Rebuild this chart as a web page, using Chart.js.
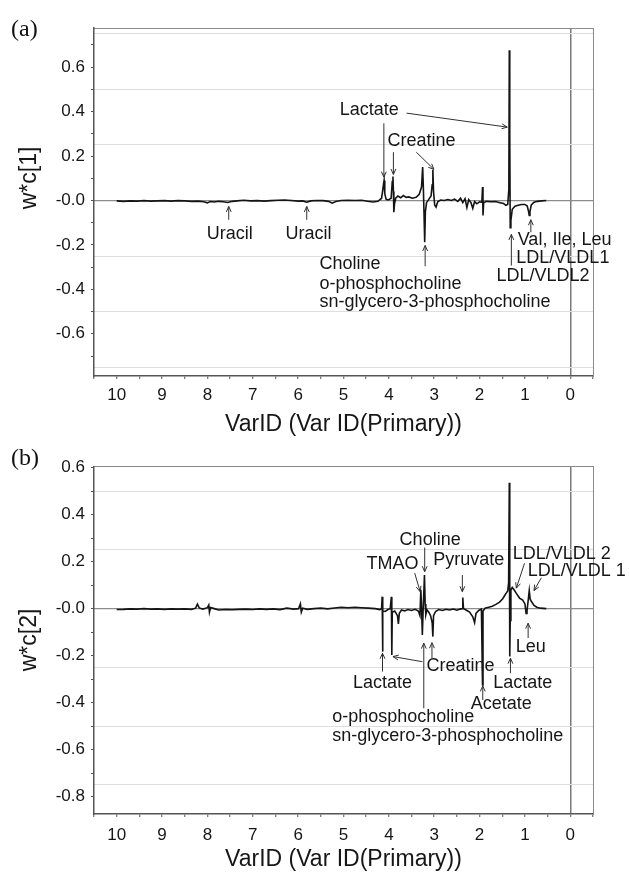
<!DOCTYPE html>
<html><head><meta charset="utf-8">
<script src="https://cdn.jsdelivr.net/npm/chart.js@4.4.1/dist/chart.umd.min.js"></script>
<style>
html,body{margin:0;padding:0;background:#fff;}
body{width:629px;height:877px;position:relative;overflow:hidden;}
canvas{position:absolute;left:0;}
#ca{top:0;} #cb{top:445px;}
.tag{position:absolute;font-family:"Liberation Serif","Times New Roman",serif;font-size:24px;line-height:24px;color:#111;}
</style></head><body>
<canvas id="ca" width="629" height="445"></canvas>
<canvas id="cb" width="629" height="432"></canvas>
<div class="tag" style="left:11px;top:16px;">(a)</div>
<div class="tag" style="left:11px;top:445px;">(b)</div>
<script>
// ---- data: chemical shift (ppm) and loadings w*c ----
const ppmA = [
 10.00, 9.85, 9.70, 9.55, 9.40, 9.25, 9.10, 8.95, 8.80, 8.65,
 8.50, 8.35, 8.20, 8.08, 8.00, 7.94, 7.85, 7.75, 7.65, 7.55,
 7.45, 7.35, 7.20, 7.05, 6.90, 6.75, 6.60, 6.45, 6.30, 6.15,
 6.00, 5.90, 5.81, 5.72, 5.60, 5.45, 5.33, 5.25, 5.17, 5.05,
 4.90, 4.75, 4.60, 4.47, 4.35, 4.24, 4.16, 4.12, 4.105, 4.09,
 4.06, 4.01, 3.95, 3.925, 3.91, 3.90, 3.89, 3.875, 3.85, 3.80,
 3.74, 3.68, 3.62, 3.56, 3.48, 3.40, 3.33, 3.28, 3.255, 3.24,
 3.225, 3.21, 3.195, 3.17, 3.12, 3.07, 3.045, 3.03, 3.015, 2.99,
 2.96, 2.92, 2.86, 2.78, 2.70, 2.62, 2.55, 2.48, 2.42, 2.37,
 2.32, 2.28, 2.24, 2.19, 2.15, 2.11, 2.06, 2.00, 1.95, 1.935,
 1.925, 1.91, 1.85, 1.75, 1.65, 1.55, 1.47, 1.42, 1.38, 1.355,
 1.345, 1.335, 1.325, 1.31, 1.28, 1.22, 1.15, 1.08, 1.00, 0.95,
 0.92, 0.905, 0.89, 0.86, 0.80, 0.72, 0.63, 0.53
];
const wc1 = [
 -0.002, -0.004, -0.002, -0.003, -0.001, -0.003, -0.002, -0.001, -0.003, -0.001,
 -0.002, -0.004, -0.003, -0.006, -0.011, -0.005, -0.007, -0.004, -0.006, -0.009,
 -0.004, -0.002, 0.001, -0.002, -0.001, -0.003, -0.001, 0.001, 0.002, 0.000,
 -0.003, -0.002, -0.008, -0.002, 0.000, -0.001, -0.004, -0.012, -0.005, 0.000,
 0.001, 0.000, 0.001, -0.004, -0.007, -0.004, 0.010, 0.070, 0.090, 0.030,
 0.005, 0.002, 0.010, 0.085, 0.108, 0.040, -0.053, -0.015, 0.010, 0.020,
 0.012, 0.022, 0.014, 0.016, 0.010, 0.014, 0.028, 0.060, 0.150, 0.060,
 -0.060, -0.188, -0.050, -0.010, 0.005, 0.020, 0.070, 0.138, 0.040, -0.020,
 -0.030, -0.005, 0.002, 0.000, 0.004, 0.000, 0.006, -0.004, 0.010, -0.010,
 0.008, -0.032, 0.004, -0.010, -0.036, -0.005, -0.015, -0.006, -0.008, 0.060,
 -0.068, -0.010, -0.004, -0.006, -0.005, -0.010, -0.014, -0.022, -0.018, 0.050,
 0.676, 0.300, -0.123, -0.090, -0.040, -0.026, -0.022, -0.018, -0.018, -0.025,
 -0.050, -0.068, -0.050, -0.020, -0.008, -0.004, -0.002, 0.000
];
const ppmB = [
 10.00, 9.85, 9.70, 9.55, 9.40, 9.25, 9.10, 8.95, 8.80, 8.65,
 8.50, 8.35, 8.26, 8.22, 8.18, 8.10, 8.00, 7.97, 7.955, 7.93,
 7.85, 7.75, 7.60, 7.45, 7.30, 7.15, 7.00, 6.85, 6.70, 6.55,
 6.40, 6.25, 6.10, 5.99, 5.95, 5.93, 5.90, 5.80, 5.65, 5.50,
 5.35, 5.20, 5.05, 4.90, 4.75, 4.60, 4.45, 4.30, 4.20, 4.16,
 4.148, 4.14, 4.13, 4.08, 4.02, 3.97, 3.945, 3.935, 3.925, 3.87,
 3.81, 3.79, 3.77, 3.72, 3.65, 3.58, 3.50, 3.42, 3.35, 3.315,
 3.295, 3.28, 3.262, 3.245, 3.215, 3.20, 3.185, 3.16, 3.12, 3.08,
 3.045, 3.03, 3.015, 2.97, 2.90, 2.82, 2.74, 2.66, 2.58, 2.50,
 2.43, 2.385, 2.37, 2.355, 2.30, 2.22, 2.15, 2.11, 2.08, 2.02,
 1.96, 1.935, 1.925, 1.88, 1.80, 1.72, 1.64, 1.56, 1.49, 1.44,
 1.41, 1.38, 1.36, 1.345, 1.338, 1.332, 1.325, 1.31, 1.28, 1.24,
 1.19, 1.12, 1.05, 1.00, 0.975, 0.955, 0.92, 0.905, 0.885, 0.85,
 0.80, 0.74, 0.66, 0.53
];
const wc2 = [
 -0.004, -0.003, -0.001, -0.002, 0.000, -0.002, -0.001, -0.003, -0.001, -0.002,
 -0.001, -0.003, 0.002, 0.019, 0.003, -0.002, 0.004, 0.015, -0.015, 0.005,
 0.000, -0.006, -0.004, -0.005, -0.003, -0.002, -0.004, -0.001, -0.003, -0.001,
 -0.004, 0.002, -0.002, 0.000, 0.020, -0.015, 0.002, -0.003, 0.000, 0.002,
 -0.001, 0.003, 0.006, 0.004, 0.006, 0.004, 0.002, 0.000, -0.004, 0.000,
 0.051, -0.183, -0.010, -0.012, -0.004, 0.000, 0.050, -0.197, -0.015, -0.010,
 -0.030, -0.065, -0.020, -0.006, -0.010, -0.004, -0.008, -0.003, -0.010, -0.030,
 0.080, 0.010, -0.112, -0.010, 0.143, 0.020, -0.025, -0.005, -0.015, -0.030,
 -0.060, -0.119, -0.030, -0.012, -0.004, -0.008, -0.003, -0.006, -0.002, -0.007,
 -0.002, 0.000, 0.047, 0.000, -0.006, -0.015, -0.035, -0.060, -0.020, -0.008,
 -0.002, -0.325, -0.010, 0.002, 0.006, 0.010, 0.018, 0.028, 0.042, 0.058,
 0.067, 0.075, 0.110, 0.536, 0.200, -0.204, -0.050, 0.080, 0.090, 0.080,
 0.065, 0.045, 0.036, 0.020, -0.020, -0.010, 0.050, 0.077, 0.040, 0.028,
 0.014, 0.006, 0.002, 0.000
];

// ---- axes ----
const xRange = [-0.5, 10.5];
const xTicks = [-0.5, 0, 0.5, 1, 1.5, 2, 2.5, 3, 3.5, 4, 4.5, 5, 5.5, 6, 6.5, 7, 7.5, 8, 8.5, 9, 9.5, 10, 10.5];
const yRangeA = [-0.79, 0.776];
const yRangeB = [-0.874, 0.604];
const yTicksA = [-0.7, -0.6, -0.5, -0.4, -0.3, -0.2, -0.1, 0, 0.1, 0.2, 0.3, 0.4, 0.5, 0.6, 0.7];
const yTicksB = [-0.8, -0.7, -0.6, -0.5, -0.4, -0.3, -0.2, -0.1, 0, 0.1, 0.2, 0.3, 0.4, 0.5, 0.6];
const yGridA = [-0.75, -0.5, -0.25, 0, 0.25, 0.5, 0.75];
const yGridB = [-0.75, -0.5, -0.25, 0, 0.25, 0.5];
const xTitle = 'VarID (Var ID(Primary))';

// ---- annotations (data coordinates) ----
const notesA = [
 {t:'Lactate', x:4.43, y:0.405},
 {t:'Creatine', x:3.28, y:0.266},
 {t:'Uracil', x:7.51, y:-0.149},
 {t:'Uracil', x:5.77, y:-0.149},
 {t:'Choline', x:5.53, y:-0.288, a:'left'},
 {t:'o-phosphocholine', x:5.53, y:-0.375, a:'left'},
 {t:'sn-glycero-3-phosphocholine', x:5.53, y:-0.458, a:'left'},
 {t:'Val, Ile, Leu', x:1.16, y:-0.177, a:'left'},
 {t:'LDL/VLDL1', x:1.19, y:-0.258, a:'left'},
 {t:'LDL/VLDL2', x:1.63, y:-0.342, a:'left'}
];
const arrowsA = [
 [3.61, 0.393, 1.39, 0.33],
 [4.11, 0.347, 4.11, 0.105],
 [3.90, 0.217, 3.90, 0.117],
 [3.395, 0.217, 3.007, 0.14],
 [7.53, -0.087, 7.53, -0.027],
 [5.81, -0.087, 5.81, -0.027],
 [3.20, -0.296, 3.20, -0.2025],
 [1.30, -0.293, 1.30, -0.153],
 [0.87, -0.143, 0.87, -0.087]
];
const notesB = [
 {t:'Choline', x:3.09, y:0.292},
 {t:'TMAO', x:3.92, y:0.191},
 {t:'Pyruvate', x:2.24, y:0.207},
 {t:'LDL/VLDL 2', x:1.27, y:0.233, a:'left'},
 {t:'LDL/VLDL 1', x:0.94, y:0.158, a:'left'},
 {t:'Leu', x:0.87, y:-0.162},
 {t:'Lactate', x:4.14, y:-0.317},
 {t:'Creatine', x:2.42, y:-0.244},
 {t:'Lactate', x:1.05, y:-0.317},
 {t:'Acetate', x:1.52, y:-0.404},
 {t:'o-phosphocholine', x:5.25, y:-0.462, a:'left'},
 {t:'sn-glycero-3-phosphocholine', x:5.25, y:-0.542, a:'left'}
];
const arrowsB = [
 [3.21, 0.26, 3.21, 0.157],
 [3.43, 0.151, 3.31, 0.072],
 [2.38, 0.143, 2.38, 0.072],
 [1.01, 0.193, 1.19, 0.087],
 [0.64, 0.131, 0.80, 0.077],
 [0.93, -0.125, 0.93, -0.062],
 [4.14, -0.268, 4.14, -0.19],
 [3.26, -0.226, 3.91, -0.204],
 [3.05, -0.211, 3.05, -0.145],
 [3.23, -0.424, 3.23, -0.147],
 [1.32, -0.275, 1.32, -0.211],
 [1.93, -0.389, 1.93, -0.329]
];

const FONT = '"Liberation Sans", Arial, Helvetica, sans-serif';

function drawArrow(ctx, x1, y1, x2, y2) {
  ctx.beginPath(); ctx.moveTo(x1, y1); ctx.lineTo(x2, y2); ctx.stroke();
  const ang = Math.atan2(y2 - y1, x2 - x1), L = 6, w = 0.42;
  ctx.beginPath();
  ctx.moveTo(x2 - L * Math.cos(ang - w), y2 - L * Math.sin(ang - w));
  ctx.lineTo(x2, y2);
  ctx.lineTo(x2 - L * Math.cos(ang + w), y2 - L * Math.sin(ang + w));
  ctx.stroke();
}

function makeChart(id, cfg) {
  const annot = {
    id: 'annot_' + id,
    afterDraw(chart) {
      const ctx = chart.ctx, xs = chart.scales.x, ys = chart.scales.y;
      ctx.save();
      ctx.fillStyle = '#161616';
      ctx.textBaseline = 'middle';
      ctx.font = '18px ' + FONT;
      cfg.notes.forEach(n => {
        ctx.textAlign = n.a || 'center';
        ctx.fillText(n.t, xs.getPixelForValue(n.x), ys.getPixelForValue(n.y));
      });
      ctx.strokeStyle = '#303030';
      ctx.lineWidth = 1;
      cfg.arrows.forEach(a => drawArrow(ctx,
        xs.getPixelForValue(a[0]), ys.getPixelForValue(a[1]),
        xs.getPixelForValue(a[2]), ys.getPixelForValue(a[3])));
      // rotated y-axis title
      ctx.font = '23px ' + FONT;
      ctx.textAlign = 'center';
      ctx.translate(30, cfg.yTitleY);
      ctx.rotate(-Math.PI / 2);
      ctx.fillText(cfg.yTitle, 0, 0);
      ctx.restore();
    }
  };
  return new Chart(document.getElementById(id), {
    type: 'line',
    data: { datasets: [{
      data: cfg.ppm.map((p, i) => ({x: p, y: cfg.wc[i]})),
      xAxisID: 'x', yAxisID: 'y',
      borderColor: '#141414', borderWidth: 1.6, pointRadius: 0, tension: 0, fill: false
    }]},
    options: {
      responsive: false, animation: false, events: [],
      layout: {padding: {top: cfg.top, right: 36, left: 0, bottom: 0}},
      plugins: {legend: {display: false}, tooltip: {enabled: false}, title: {display: false}},
      scales: {
        x: {
          type: 'linear', position: 'bottom', min: xRange[0], max: xRange[1], reverse: true,
          afterBuildTicks: s => { s.ticks = xTicks.map(v => ({value: v})); },
          afterFit: s => { s.height = cfg.xh; s.paddingLeft = 0; s.paddingRight = 0; },
          ticks: {autoSkip: false, maxRotation: 0, minRotation: 0, padding: cfg.xpad, color: '#161616',
                  font: {family: FONT, size: 17},
                  callback: v => Number.isInteger(v) ? String(v) : ''},
          grid: {drawOnChartArea: true, tickLength: 3, tickColor: '#555', tickWidth: 1,
                 color: c => (c.tick && c.tick.value === 0) ? '#7a7a7a' : 'rgba(0,0,0,0)', lineWidth: 1.5},
          border: {display: true, color: '#555', width: 1.5},
          title: {display: true, text: xTitle, color: '#161616', font: {family: FONT, size: 23},
                  padding: {top: 0, bottom: cfg.tpad}}
        },
        xt: {
          type: 'linear', position: 'top', min: 0, max: 1,
          ticks: {display: false}, grid: {display: false},
          border: {display: true, color: '#8a8a8a', width: 1},
          afterFit: s => { s.height = 0; s.paddingLeft = 0; s.paddingRight = 0; }
        },
        y: {
          type: 'linear', position: 'left', min: cfg.yr[0], max: cfg.yr[1],
          afterBuildTicks: s => { s.ticks = cfg.yt.map(v => ({value: v})); },
          afterFit: s => { s.width = 94; s.paddingTop = 0; s.paddingBottom = 0; },
          ticks: {autoSkip: false, padding: 6, color: '#161616', font: {family: FONT, size: 17},
                  callback: v => { const k = Math.round(v * 10); if (k % 2 !== 0) return ''; return k === 0 ? '-0.0' : (k / 10).toFixed(1); }},
          grid: {drawOnChartArea: false, tickLength: 3, tickColor: '#555'},
          border: {display: true, color: '#555', width: 1.5},
          title: {display: false}
        },
        yg: {
          type: 'linear', position: 'right', min: cfg.yr[0], max: cfg.yr[1],
          afterBuildTicks: s => { s.ticks = cfg.yg.map(v => ({value: v})); },
          afterFit: s => { s.width = 0; s.paddingTop = 0; s.paddingBottom = 0; },
          ticks: {display: false},
          grid: {drawTicks: false, color: c => (c.tick && c.tick.value === 0) ? '#8c8c8c' : '#dedede',
                 lineWidth: c => (c.tick && c.tick.value === 0) ? 1.3 : 1},
          border: {display: true, color: '#8a8a8a', width: 1}
        }
      }
    },
    plugins: [annot]
  });
}

makeChart('ca', {ppm: ppmA, wc: wc1, yr: yRangeA, yt: yTicksA, yg: yGridA,
  notes: notesA, arrows: arrowsA, yTitle: 'w*c[1]', yTitleY: 178,
  top: 28, xh: 69, xpad: 6, tpad: 6.7});
makeChart('cb', {ppm: ppmB, wc: wc2, yr: yRangeB, yt: yTicksB, yg: yGridB,
  notes: notesB, arrows: arrowsB, yTitle: 'w*c[2]', yTitleY: 195,
  top: 21.7, xh: 63, xpad: 8, tpad: 3.2});
</script>
</body></html>
